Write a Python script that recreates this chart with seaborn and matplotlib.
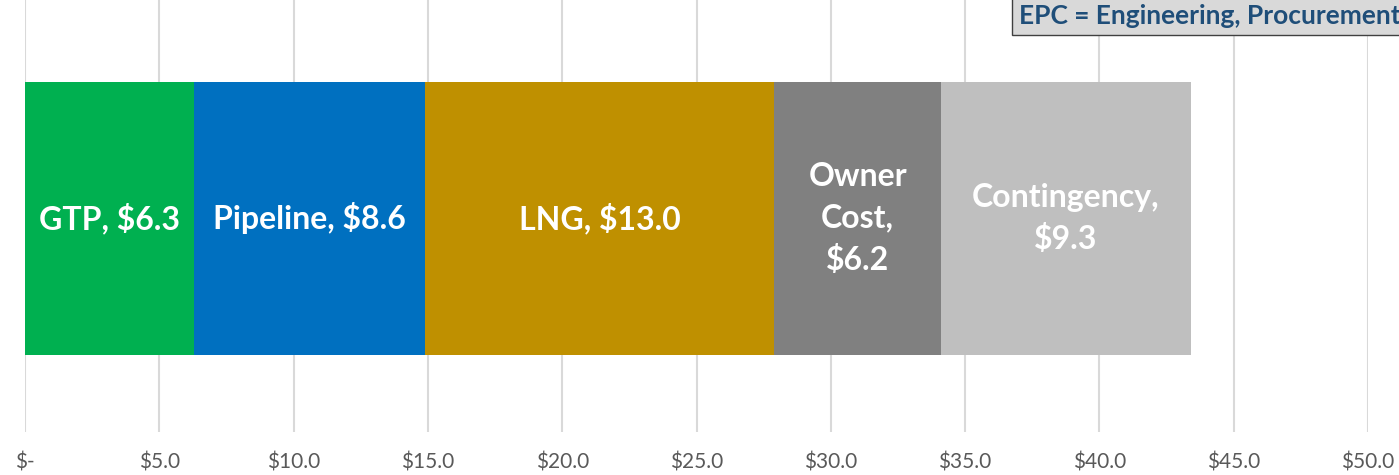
import numpy as np
import pandas as pd
import seaborn as sns
from matplotlib import pyplot as plt

segments = ['GTP', 'Pipeline', 'LNG', 'Owner Cost', 'Contingency']
values = [6.3, 8.6, 13.0, 6.2, 9.3]
labels = ['GTP, $6.3', 'Pipeline, $8.6', 'LNG, $13.0', 'Owner\nCost,\n$6.2', 'Contingency,\n$9.3']
colors = ['#00B050', '#0070C0', '#BF9000', '#808080', '#BFBFBF']
ticks = [0, 5, 10, 15, 20, 25, 30, 35, 40, 45, 50]
tick_labels = ['$-'] + ['$%.1f' % t for t in ticks[1:]]

sns.set_style('white')
plt.rcParams['font.family'] = ['Lato', 'DejaVu Sans']

df = pd.DataFrame({'segment': segments, 'value': values})
df['end'] = df['value'].cumsum()
df['start'] = df['end'] - df['value']
df['row'] = 'Cost'

fig = plt.figure(figsize=(13.99, 4.75), dpi=100)
ax = fig.add_axes([25 / 1399, 43 / 475, 1343 / 1399, 432 / 475])

# stacked look: draw cumulative totals from the longest down
for i in reversed(range(len(df))):
    sns.barplot(data=df.iloc[[i]], x='end', y='row', color=colors[i],
                width=1.0, saturation=1, linewidth=0, ax=ax, zorder=3)

for i, r in df.iterrows():
    ax.text((r['start'] + r['end']) / 2, 0.0, labels[i], ha='center', va='center',
            color='white', fontsize=23, fontweight='bold', linespacing=1.5, zorder=4)

ax.set_xlim(0, 50)
ax.set_ylim(-0.782, 0.8)
ax.set_xticks(ticks)
ax.set_xticklabels(tick_labels, fontsize=15, color='#595959')
ax.set_yticks([])
ax.set_xlabel('')
ax.set_ylabel('')
ax.tick_params(axis='x', length=0, pad=15)
ax.grid(axis='x', color='#D9D9D9', linewidth=1.5, zorder=0)
for s in ax.spines.values():
    s.set_visible(False)

fig.text(1019 / 1399, 1 - 24 / 475, 'EPC = Engineering, Procurement & Construction',
         fontsize=19, fontweight='bold', color='#1F4E79', va='baseline',
         bbox=dict(boxstyle='square,pad=0.25', facecolor='#D9D9D9', edgecolor='#404040', linewidth=1))

fig.savefig('out.png', dpi=100)
